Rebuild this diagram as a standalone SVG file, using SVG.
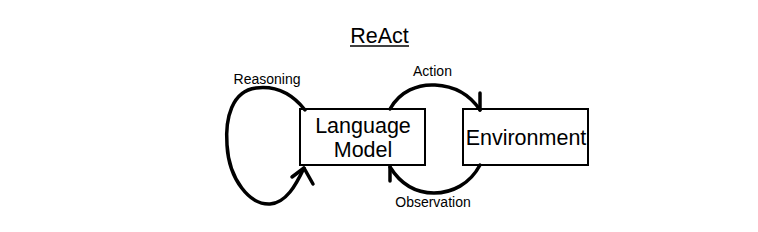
<svg xmlns="http://www.w3.org/2000/svg" width="758" height="232" viewBox="0 0 758 232">
<style>
text{font-family:"Liberation Sans",Arial,sans-serif;fill:#000;text-anchor:middle}
.box{fill:#fff;stroke:#000;stroke-width:2}
.arc{fill:none;stroke:#000;stroke-width:3.5;stroke-linecap:round;stroke-linejoin:round}
.big{font-size:21.5px}
.lbl{font-size:14px}
</style>
<rect width="758" height="232" fill="#fff"/>
<g id="title">
<text x="379.5" y="43" style="font-size:21.5px">ReAct</text>
<line x1="350" y1="46" x2="409" y2="46" stroke="#000" stroke-width="1.5"/>
</g>
<g id="language-model">
<rect class="box" x="300" y="109" width="125" height="56"/>
<text class="big" x="363" y="133">Language</text>
<text class="big" x="363" y="157">Model</text>
</g>
<g id="environment">
<rect class="box" x="463" y="109" width="125" height="56"/>
<text class="big" x="526" y="145">Environment</text>
</g>
<g id="connectors">
<g id="reasoning">
<path class="arc" d="M305,110 C290,91 272,86 256,88 C232,91 225,118 227,145 C229,180 250,205 270,204 C286,203 296,185 304,168"/>
<path class="arc" d="M292,177 L304,168 L313,184"/>
<text class="lbl" x="267" y="84">Reasoning</text>
</g>
<g id="action">
<path class="arc" d="M390,109 C400,91 418,84 435,85 C455,86 470,95 480,110"/>
<path class="arc" d="M480,93 L480,110"/>
<text class="lbl" x="432.5" y="76">Action</text>
</g>
<g id="observation">
<path class="arc" d="M480,165 C470,184 452,193 434,193 C415,193 400,183 390,167"/>
<path class="arc" d="M390,167 L390,181"/>
<text class="lbl" x="433" y="207">Observation</text>
</g>
</g>
</svg>
